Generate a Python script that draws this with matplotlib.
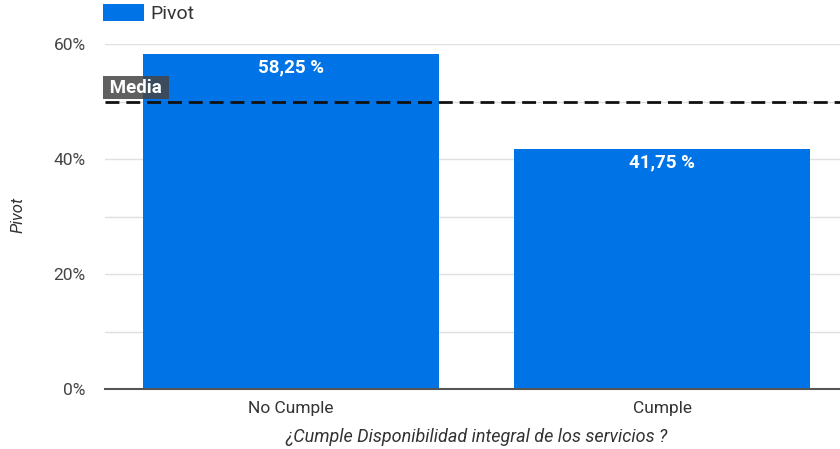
import matplotlib
matplotlib.use("Agg")
import matplotlib.pyplot as plt
from matplotlib.ticker import FuncFormatter, MultipleLocator

plt.rcParams['font.family'] = ['Roboto', 'DejaVu Sans']

categories = ["No Cumple", "Cumple"]
values = [58.25, 41.75]
value_labels = ["58,25 %", "41,75 %"]
series_name = "Pivot"
mean_value = 50.0
x_title = "¿Cumple Disponibilidad integral de los servicios ?"
y_title = "Pivot"

blue = "#0073E6"

fig = plt.figure(figsize=(8.4, 4.49), dpi=100)
ax = fig.add_axes([105/840, 60/449, 743/840, 345/449])

x = list(range(len(categories)))
bars = ax.bar(x, values, width=0.796, color=blue, label=series_name, zorder=2)
ax.set_xlim(-0.5, 1.5)
ax.set_ylim(0, 60)

ax.yaxis.set_major_locator(MultipleLocator(20))
ax.yaxis.set_minor_locator(MultipleLocator(10))
ax.yaxis.set_major_formatter(FuncFormatter(lambda v, p: f"{int(v)}%"))
ax.grid(axis='y', which='both', color='#e0e0e0', linewidth=1, zorder=0)
ax.set_axisbelow(True)

for s in ['top', 'right', 'left']:
    ax.spines[s].set_visible(False)
ax.spines['bottom'].set_color('#555555')
ax.spines['bottom'].set_linewidth(1.5)
ax.spines['bottom'].set_zorder(3)

ax.tick_params(axis='y', which='both', length=0, labelsize=12.5, labelcolor='#444444', pad=14)
ax.tick_params(axis='x', length=0, labelsize=12.5, labelcolor='#333333', pad=9)
ax.set_xticks(x)
ax.set_xticklabels(categories)

for b, lab in zip(bars, value_labels):
    ax.annotate(lab, (b.get_x() + b.get_width()/2, b.get_height()),
                xytext=(0, -9.5), textcoords='offset points', ha='center', va='center',
                color='white', fontsize=13.5, fontweight='bold', zorder=4)

ax.axhline(mean_value, color='#111111', linestyle=(0, (5, 2.5)), linewidth=2, zorder=3)
ax.text(-0.5, mean_value + 2.4, " Media ", ha='left', va='center', color='white',
        fontsize=13.5, fontweight='bold', zorder=5,
        bbox=dict(boxstyle='square,pad=0.12', facecolor='#444444', edgecolor='none', alpha=0.85))

ax.set_xlabel(x_title, fontsize=13, style='italic', color='#333333')
ax.xaxis.set_label_coords(0.5, -(428 - 389)/345)
ax.set_ylabel(y_title, fontsize=12, style='italic', color='#333333')
ax.yaxis.set_label_coords(-(105 - 26)/743, (389 - 215)/345)

leg = fig.legend(handles=[bars], labels=[series_name], loc='upper left',
                 bbox_to_anchor=(103/840, 1 - 4/449), frameon=False, fontsize=14,
                 borderpad=0, borderaxespad=0,
                 handlelength=2.1, handleheight=1.0, handletextpad=0.35, labelcolor='#333333')

fig.savefig("out.png", dpi=100)
